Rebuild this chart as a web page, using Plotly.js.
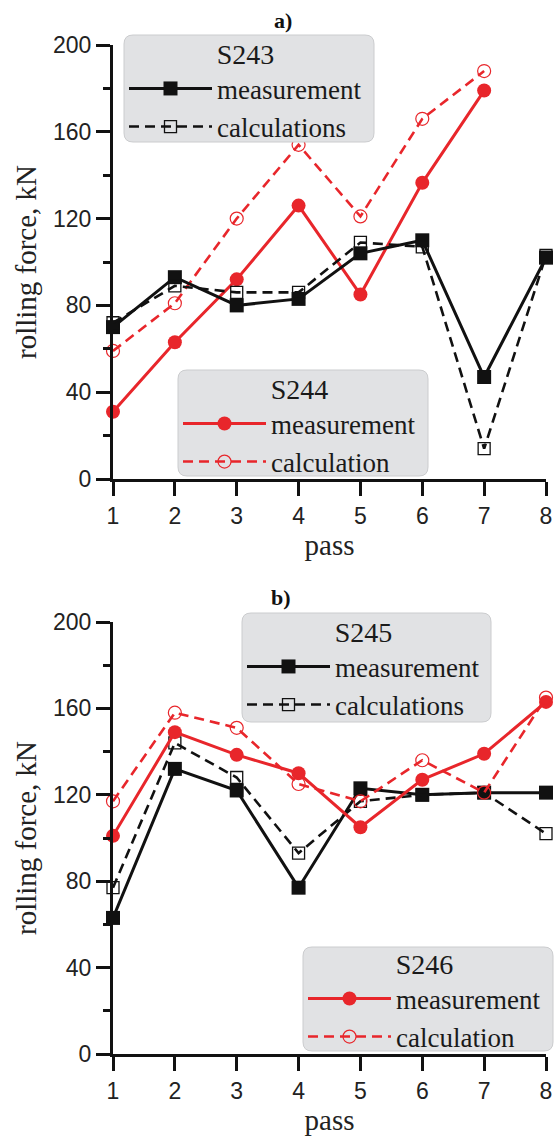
<!DOCTYPE html>
<html>
<head>
<meta charset="utf-8">
<script src="https://cdn.plot.ly/plotly-3.0.1.min.js"></script>
<style>html,body{margin:0;padding:0;background:#fff;}#chart{width:555px;height:1137px;}</style>
</head>
<body>
<div id="chart"></div>
<script>
// ---- data ----
const passes = [1, 2, 3, 4, 5, 6, 7, 8];
const passesS244 = [1, 2, 3, 4, 5, 6, 7];
const xTicks = [1, 2, 3, 4, 5, 6, 7, 8];
const yTicks = [0, 40, 80, 120, 160, 200];

const s243Measurement = [70, 93, 80, 83, 104, 110, 47, 102];
const s243Calculations = [72, 89, 86, 86, 109, 107, 14, 103];
const s244Measurement = [31, 63, 92, 126, 85, 136.5, 179];
const s244Calculation = [59, 81, 120, 154, 121, 166, 188];

const s245Measurement = [63, 132, 122, 77, 123, 120, 121, 121];
const s245Calculations = [77, 144, 128, 93, 117, 120, 121, 102];
const s246Measurement = [101, 149, 138.5, 130, 105, 127, 139, 163];
const s246Calculation = [117, 158, 151, 125, 117, 136, 121, 165];

// ---- styles ----
const RED = '#e8262b';
const BLACK = '#111111';
const DASH = '10px,6px';
const W = 555, H = 1137, ML = 113, MR = 9;
const PW = W - ML - MR;

function measBlack(x, y, xa, ya, leg) {
  return {x: x, y: y, xaxis: xa, yaxis: ya, legend: leg, name: 'measurement', type: 'scatter',
    mode: 'lines+markers', cliponaxis: false,
    line: {color: BLACK, width: 3},
    marker: {symbol: 'square', size: 14, color: BLACK, line: {width: 0}}};
}
function calcBlack(x, y, xa, ya, leg) {
  return {x: x, y: y, xaxis: xa, yaxis: ya, legend: leg, name: 'calculations', type: 'scatter',
    mode: 'lines+markers', cliponaxis: false,
    line: {color: BLACK, width: 2.6, dash: DASH},
    marker: {symbol: 'square-open', size: 12, color: BLACK, line: {width: 1.3, color: BLACK}}};
}
function measRed(x, y, xa, ya, leg) {
  return {x: x, y: y, xaxis: xa, yaxis: ya, legend: leg, name: 'measurement', type: 'scatter',
    mode: 'lines+markers', cliponaxis: false,
    line: {color: RED, width: 3},
    marker: {symbol: 'circle', size: 14, color: RED, line: {width: 0}}};
}
function calcRed(x, y, xa, ya, leg) {
  return {x: x, y: y, xaxis: xa, yaxis: ya, legend: leg, name: 'calculation', type: 'scatter',
    mode: 'lines+markers', cliponaxis: false,
    line: {color: RED, width: 2.6, dash: DASH},
    marker: {symbol: 'circle-open', size: 13, color: RED, line: {width: 1.2, color: RED}}};
}

const traces = [
  measRed(passesS244, s244Measurement, 'x', 'y', 'legend2'),
  calcRed(passesS244, s244Calculation, 'x', 'y', 'legend2'),
  measBlack(passes, s243Measurement, 'x', 'y', 'legend'),
  calcBlack(passes, s243Calculations, 'x', 'y', 'legend'),
  measBlack(passes, s245Measurement, 'x2', 'y2', 'legend3'),
  calcBlack(passes, s245Calculations, 'x2', 'y2', 'legend3'),
  measRed(passes, s246Measurement, 'x2', 'y2', 'legend4'),
  calcRed(passes, s246Calculation, 'x2', 'y2', 'legend4')
];

const tickFont = {family: 'Liberation Sans, Arial, sans-serif', size: 23, color: '#222'};
const titleFont = {family: 'Liberation Serif, Times New Roman, serif', size: 29, color: '#222'};
const legFont = {family: 'Liberation Serif, Times New Roman, serif', size: 27, color: '#1a1a1a'};
const legTitleFont = {family: 'Liberation Serif, Times New Roman, serif', size: 28, color: '#1a1a1a'};

function xAxis(anchor) {
  return {anchor: anchor, domain: [0, 1], range: [1, 8], tickvals: xTicks, ticktext: xTicks.map(String),
    showline: true, linecolor: BLACK, linewidth: 3, ticks: 'outside', ticklen: 14, tickwidth: 3,
    tickcolor: BLACK, showgrid: false, zeroline: false, tickfont: tickFont,
    title: {text: 'pass', font: titleFont, standoff: 2}, fixedrange: true};
}
function yAxis(anchor, domain) {
  return {anchor: anchor, domain: domain, range: [0, 200], tickvals: yTicks, ticktext: yTicks.map(String),
    showline: true, linecolor: BLACK, linewidth: 3, ticks: 'outside', ticklen: 14, tickwidth: 3,
    tickcolor: BLACK, showgrid: false, zeroline: false, tickfont: tickFont,
    minor: {dtick: 20, tick0: 0, ticks: 'outside', ticklen: 7, tickwidth: 3, tickcolor: BLACK, showgrid: false},
    title: {text: 'rolling force, kN', font: titleFont, standoff: 8}, fixedrange: true};
}
// pixel -> paper helpers (layout geometry only)
const px = v => (v - ML) / PW;
const py = v => 1 - v / H;
function legendAt(leftPx, topPx, title) {
  return {x: px(leftPx), y: py(topPx), xanchor: 'left', yanchor: 'top', xref: 'paper', yref: 'paper',
    bgcolor: 'rgba(0,0,0,0)', borderwidth: 0,
    font: legFont, itemwidth: 83, tracegroupgap: 0,
    title: {text: title, font: legTitleFont, side: 'top center'}};
}
function roundedBox(x0, y0, x1, y1, r) {
  const p = (a, b) => px(a) + ',' + py(b);
  const path = 'M' + p(x0 + r, y0) + ' L' + p(x1 - r, y0) + ' Q' + p(x1, y0) + ' ' + p(x1, y0 + r) +
    ' L' + p(x1, y1 - r) + ' Q' + p(x1, y1) + ' ' + p(x1 - r, y1) +
    ' L' + p(x0 + r, y1) + ' Q' + p(x0, y1) + ' ' + p(x0, y1 - r) +
    ' L' + p(x0, y0 + r) + ' Q' + p(x0, y0) + ' ' + p(x0 + r, y0) + ' Z';
  return {type: 'path', xref: 'paper', yref: 'paper', path: path, layer: 'above',
    fillcolor: 'rgb(225,226,228)', line: {color: 'rgb(203,204,206)', width: 1}};
}

const layout = {
  width: W, height: H,
  margin: {l: ML, r: MR, t: 0, b: 0},
  paper_bgcolor: '#ffffff', plot_bgcolor: '#ffffff',
  showlegend: true,
  xaxis: xAxis('y'),
  yaxis: yAxis('x', [py(479), py(45)]),
  xaxis2: xAxis('y2'),
  yaxis2: yAxis('x2', [py(1054), py(622)]),
  legend: legendAt(124, 28, 'S243'),
  legend2: legendAt(178, 363, 'S244'),
  legend3: legendAt(242, 606, 'S245'),
  legend4: legendAt(303, 938, 'S246'),
  shapes: [
    roundedBox(124, 35, 374, 142, 9),
    roundedBox(178, 370, 428, 476, 9),
    roundedBox(242, 613, 491, 722, 9),
    roundedBox(303, 947, 553, 1051, 9)
  ],
  annotations: [
    {text: '<b>a)</b>', xref: 'paper', yref: 'paper', x: px(283), y: py(20), showarrow: false,
     xanchor: 'center', yanchor: 'middle', font: {family: 'Liberation Serif, serif', size: 22, color: '#111'}},
    {text: '<b>b)</b>', xref: 'paper', yref: 'paper', x: px(281), y: py(597), showarrow: false,
     xanchor: 'center', yanchor: 'middle', font: {family: 'Liberation Serif, serif', size: 22, color: '#111'}}
  ]
};

Plotly.newPlot('chart', traces, layout, {displayModeBar: false, staticPlot: true});
</script>
</body>
</html>
